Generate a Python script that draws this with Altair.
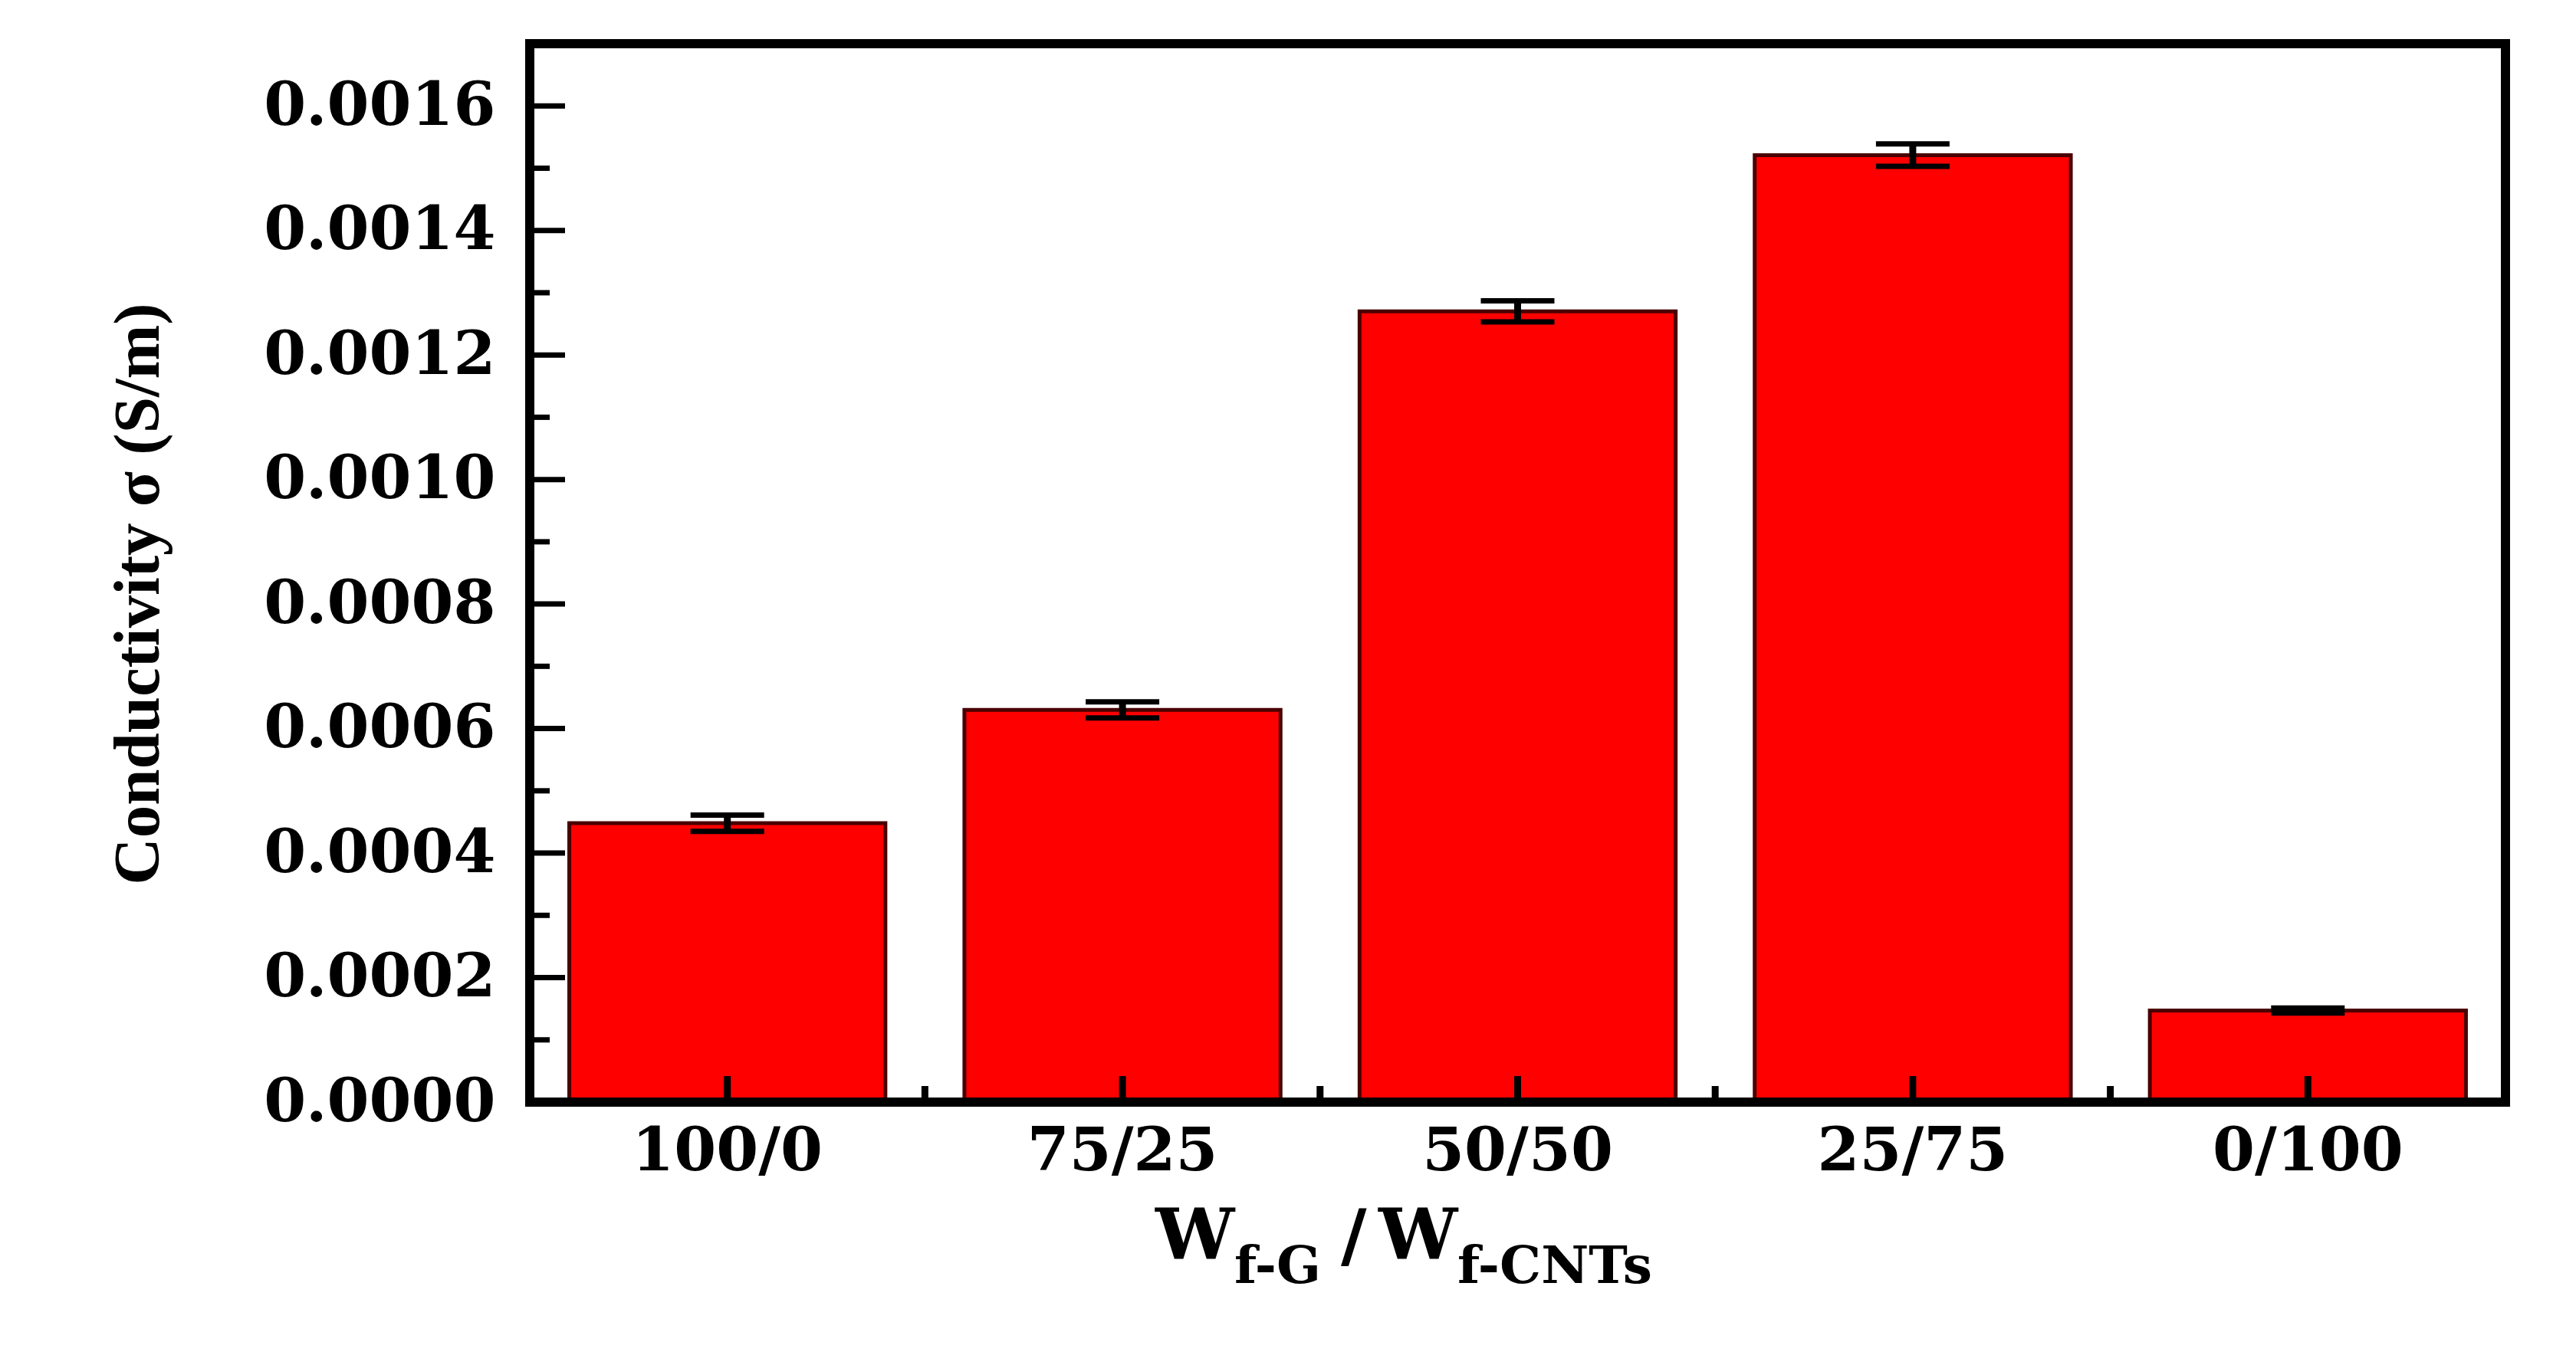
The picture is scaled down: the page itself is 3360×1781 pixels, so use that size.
import altair as alt
import pandas as pd

# ---------------- data ----------------
categories = ["100/0", "75/25", "50/50", "25/75", "0/100"]
conductivity = [0.000448, 0.000630, 0.001270, 0.001521, 0.000147]
errors = [0.000013, 0.000013, 0.000017, 0.000018, 0.000004]
y_major_ticks = [0.0000, 0.0002, 0.0004, 0.0006, 0.0008, 0.0010, 0.0012, 0.0014, 0.0016]
y_minor_ticks = [0.0001, 0.0003, 0.0005, 0.0007, 0.0009, 0.0011, 0.0013, 0.0015]
y_max = 0.0017

# ---------------- layout ----------------
W, H = 2577, 1381
STEP = W / len(categories)
HFONT = "DejaVu Serif"
VFONT = "Liberation Serif"

bars_df = pd.DataFrame({"cat": categories, "value": conductivity, "err": errors})
bars_df["lo"] = bars_df["value"] - bars_df["err"]
bars_df["hi"] = bars_df["value"] + bars_df["err"]
major_df = pd.DataFrame({"tick": y_major_ticks})
minor_df = pd.DataFrame({"tick": y_minor_ticks})
xminor_df = pd.DataFrame({"cat": categories[1:]})
one = pd.DataFrame({"a": [0]})

xscale = alt.Scale(domain=categories, paddingInner=0.2, paddingOuter=0.1)
yscale = alt.Scale(domain=[0, y_max], nice=False, zero=True)

xaxis = alt.Axis(title=None, labelAngle=0, labelPadding=26, labelLimit=1000)
yaxis = alt.Axis(title=None, values=y_major_ticks, format=".4f", labelPadding=45, labelLimit=1000)


def xenc(**kw):
    return alt.X("cat:N", scale=xscale, sort=categories, axis=xaxis, **kw)


def yenc(field):
    return alt.Y(field, scale=yscale, axis=yaxis)


bars = alt.Chart(bars_df).mark_bar(color="#ff0000", stroke="#4a0000", strokeWidth=5).encode(
    x=xenc(), y=yenc("value:Q")
)

stem = alt.Chart(bars_df).mark_rule(color="black", strokeWidth=9).encode(
    x=xenc(), y=yenc("lo:Q"), y2="hi:Q"
)
cap_lo = alt.Chart(bars_df).mark_tick(color="black", thickness=7, size=96, opacity=1).encode(
    x=xenc(), y=yenc("lo:Q")
)
cap_hi = alt.Chart(bars_df).mark_tick(color="black", thickness=7, size=96, opacity=1).encode(
    x=xenc(), y=yenc("hi:Q")
)

ytick_major = alt.Chart(major_df).mark_rule(color="black", strokeWidth=7).encode(
    y=yenc("tick:Q"), x=alt.value(0), x2=alt.value(46)
)
ytick_minor = alt.Chart(minor_df).mark_rule(color="black", strokeWidth=7).encode(
    y=yenc("tick:Q"), x=alt.value(0), x2=alt.value(26)
)
xtick_major = alt.Chart(bars_df).mark_rule(color="black", strokeWidth=9).encode(
    x=xenc(), y=alt.value(H), y2=alt.value(H - 34)
)
xtick_minor = alt.Chart(xminor_df).mark_rule(color="black", strokeWidth=9, xOffset=-0.1 * STEP).encode(
    x=xenc(bandPosition=0), y=alt.value(H), y2=alt.value(H - 21)
)

frame = alt.Chart(one).mark_rect(fillOpacity=0, stroke="black", strokeWidth=12).encode(
    x=alt.value(0), x2=alt.value(W), y=alt.value(0), y2=alt.value(H)
)

# x title: W_{f-G} / W_{f-CNTs}
title_parts = [
    ("W", 816, 1586, 92),
    ("f-G", 919, 1617, 68),
    ("/", 1058, 1586, 92),
    ("W", 1107, 1586, 92),
    ("f-CNTs", 1210, 1617, 68),
]
texts = []
for txt, px, py, fs in title_parts:
    texts.append(
        alt.Chart(one).mark_text(text=txt, font=HFONT, fontWeight="bold", fontSize=fs,
                                 align="left", baseline="alphabetic", color="black")
        .encode(x=alt.value(px), y=alt.value(py))
    )

ytitle = alt.Chart(one).mark_text(text="Conductivity σ (S/m)", font=VFONT, fontWeight="bold",
                                  fontSize=85, angle=270, align="center", baseline="alphabetic",
                                  color="black").encode(x=alt.value(-484), y=alt.value(718))

chart = alt.layer(
    bars, stem, cap_lo, cap_hi, ytick_major, ytick_minor, xtick_major, xtick_minor, frame,
    *texts, ytitle
).properties(
    width=W, height=H,
    autosize=alt.AutoSizeParams(type="none"),
    padding={"left": 683, "top": 49, "right": 80, "bottom": 300},
    background="white",
).configure_view(strokeWidth=0).configure_axis(
    labelFont=HFONT, labelFontWeight="bold", labelFontSize=79, labelColor="black",
    grid=False, ticks=False, domain=False, labelLimit=1000,
)

chart.save("out.html", embed_options={"renderer": "svg", "actions": False})
